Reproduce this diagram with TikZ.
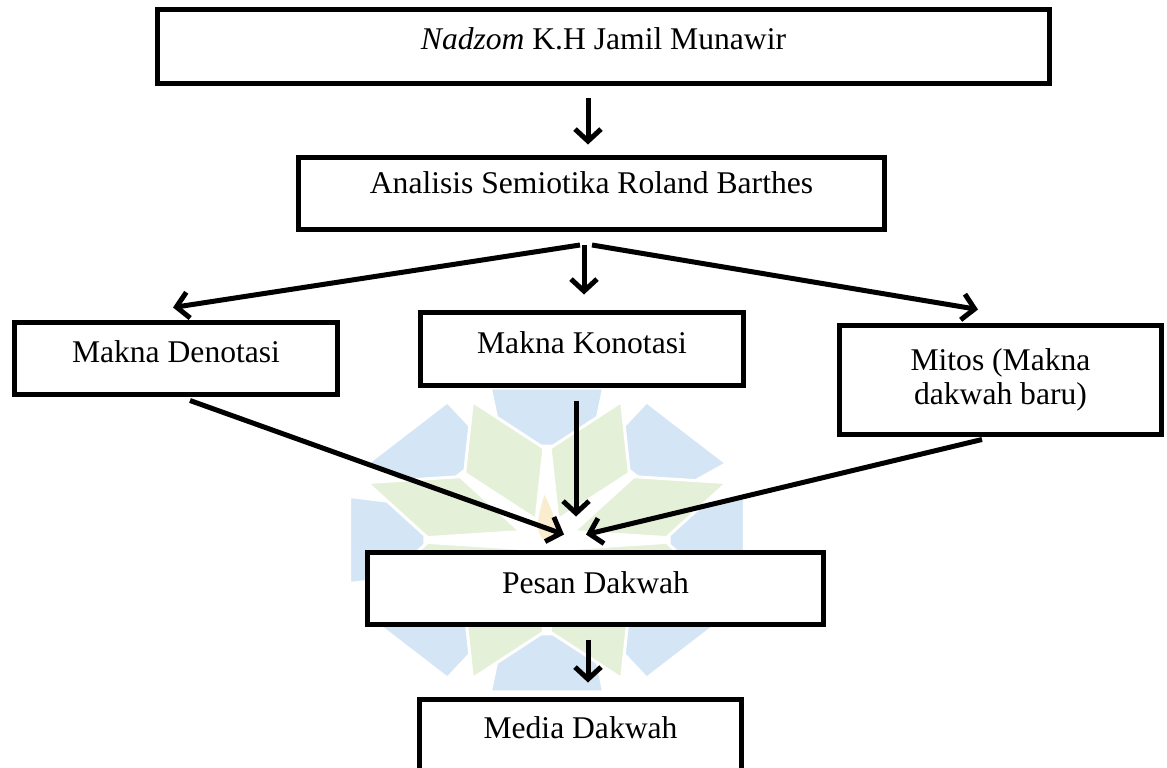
\documentclass[tikz,border=0pt]{standalone}
\usepackage{fontspec}
\setmainfont{Liberation Serif}
\usetikzlibrary{arrows.meta}
\definecolor{wmblue}{RGB}{212,229,245}
\definecolor{wmgreen}{RGB}{229,240,216}
\definecolor{wmflame}{RGB}{250,236,206}

\begin{document}
\begin{tikzpicture}[line join=miter,
        bigbox/.style={shape=rectangle, fill=white, draw=black, line width=5pt, inner sep=0pt, font=\fontsize{31.6pt}{34pt}\selectfont},
        flowarrow/.style={line width=5pt, -{Straight Barb[length=12pt, width=26pt]}}]
        \useasboundingbox (0pt, 0pt) rectangle (1167pt, -768pt);
        % Watermark
        \begin{scope}[shift={(547pt, -540pt)}, xscale=1.3]
          \foreach \ang in {0, 45, ..., 315} {
            \path[fill=wmblue, draw=white, line width=3pt] ({\ang-20}:100pt) -- ({\ang-16}:158pt) -- ({\ang+16}:158pt) -- ({\ang+20}:100pt) -- cycle;
          }
          \foreach \ang in {22.5, 67.5, ..., 337.5} {
            \path[fill=wmgreen, draw=white, line width=3pt] (\ang:22pt) -- ({\ang-21}:92pt) -- (\ang:150pt) -- ({\ang+21}:92pt) -- cycle;
          }
          \fill[wmflame] (-2pt, 45pt) .. controls (8pt, 20pt) and (10pt, 5pt) .. (0pt, -2pt) .. controls (-10pt, 5pt) and (-8pt, 20pt) .. (-2pt, 45pt);
        \end{scope}
        % Boxes
        \node[bigbox, minimum width=892pt, minimum height=74pt, text height=22pt, text depth=15pt] (nadzom) at (603.5pt, -46.5pt) {\textit{Nadzom} K.H Jamil Munawir};
        \node[bigbox, minimum width=586pt, minimum height=72pt, text height=22pt, text depth=22pt] (analisis) at (591.5pt, -193pt) {Analisis Semiotika Roland Barthes};
        \node[bigbox, minimum width=323pt, minimum height=72pt, text height=22pt, text depth=15pt] (denotasi) at (176pt, -358.5pt) {Makna Denotasi};
        \node[bigbox, minimum width=323pt, minimum height=73pt, text height=22pt, text depth=14pt] (konotasi) at (582pt, -349pt) {Makna Konotasi};
        \node[bigbox, minimum width=322pt, minimum height=109pt, align=center] (mitos) at (1000.5pt, -380pt) {Mitos (Makna\\dakwah baru)};
        \node[bigbox, minimum width=456pt, minimum height=72pt, text height=22pt, text depth=13pt] (pesan) at (595.5pt, -588.5pt) {Pesan Dakwah};
        \node[bigbox, minimum width=322pt, minimum height=75pt, text height=22pt, text depth=20pt] (media) at (580.5pt, -737pt) {Media Dakwah};
        % Arrows
        \draw[flowarrow] ([xshift=-15.5pt, yshift=-11.5pt]nadzom.south) -- ([xshift=-3.5pt, yshift=10pt]analisis.north);
        \draw[flowarrow] ([xshift=-11.5pt, yshift=-13.5pt]analisis.south) -- ([xshift=-3pt, yshift=12.5pt]denotasi.north);
        \draw[flowarrow] ([xshift=-7.5pt, yshift=-13.5pt]analisis.south) -- ([xshift=2pt, yshift=15.5pt]konotasi.north);
        \draw[flowarrow] ([xshift=0.5pt, yshift=-13.5pt]analisis.south) -- ([xshift=-22.5pt, yshift=13.5pt]mitos.north);
        \draw[flowarrow] ([xshift=14pt, yshift=-3.5pt]denotasi.south) -- ([xshift=-31.5pt, yshift=15.5pt]pesan.north);
        \draw[flowarrow] ([xshift=-6pt, yshift=-12.5pt]konotasi.south) -- ([xshift=-19.5pt, yshift=33.5pt]pesan.north);
        \draw[flowarrow] ([xshift=-18.5pt, yshift=-2.5pt]mitos.south) -- ([xshift=-9.5pt, yshift=15.5pt]pesan.north);
        \draw[flowarrow] ([xshift=-7.5pt, yshift=-12.5pt]pesan.south) -- ([xshift=7.5pt, yshift=14.5pt]media.north);
\end{tikzpicture}
\end{document}
